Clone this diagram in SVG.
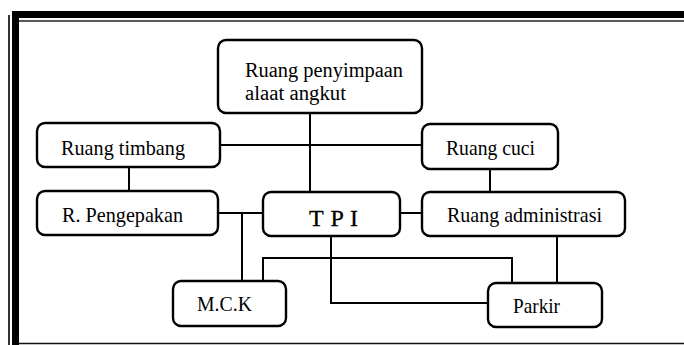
<svg xmlns="http://www.w3.org/2000/svg" width="684" height="345" viewBox="0 0 684 345">
  <style>
    .box { fill: #ffffff; stroke: #000000; stroke-width: 2.4; }
    .wire { fill: none; stroke: #000000; stroke-width: 2; }
    .lbl { font-family: "Liberation Serif", "Times New Roman", serif; font-size: 22px; fill: #000000; }
    .two { font-size: 20px; }
    .big { font-family: "Liberation Serif", "Times New Roman", serif; font-size: 24px; fill: #000000; stroke: #000000; stroke-width: 0.3; }
  </style>
  <rect x="0" y="0" width="684" height="345" fill="#ffffff"/>

  <!-- page frame -->
  <g id="frame">
    <rect x="12" y="11" width="672" height="7" fill="#000000"/>
    <rect x="12" y="11" width="7" height="334" fill="#000000"/>
    <line x1="9" y1="15" x2="9" y2="345" stroke="#000000" stroke-width="1.6"/>
    <line x1="19" y1="21" x2="684" y2="21" stroke="#222222" stroke-width="1.4"/>
    <line x1="19" y1="343.5" x2="684" y2="343.5" stroke="#111111" stroke-width="1.6"/>
  </g>

  <!-- connectors -->
  <g id="connectors">
    <line class="wire" x1="310" y1="113" x2="310" y2="192"/>
    <line class="wire" x1="220" y1="145" x2="422" y2="145"/>
    <line class="wire" x1="129" y1="167" x2="129" y2="191"/>
    <line class="wire" x1="490" y1="169" x2="490" y2="192"/>
    <line class="wire" x1="218" y1="213" x2="263" y2="213"/>
    <line class="wire" x1="242" y1="213" x2="242" y2="281"/>
    <line class="wire" x1="400" y1="213" x2="422" y2="213"/>
    <polyline class="wire" points="331,236 331,303 488,303"/>
    <polyline class="wire" points="263,281 263,258 512,258 512,283"/>
    <line class="wire" x1="557" y1="236" x2="557" y2="283"/>
  </g>

  <g id="ruang-penyimpaan">
    <rect class="box" x="218" y="40" width="204" height="73" rx="8"/>
    <text class="lbl two" x="245" y="77" textLength="158" lengthAdjust="spacingAndGlyphs">Ruang penyimpaan</text>
    <text class="lbl two" x="245" y="100" textLength="101" lengthAdjust="spacingAndGlyphs">alaat angkut</text>
  </g>

  <g id="ruang-timbang">
    <rect class="box" x="37" y="123" width="183" height="44" rx="8"/>
    <text class="lbl" x="61" y="155" textLength="124" lengthAdjust="spacingAndGlyphs">Ruang timbang</text>
  </g>

  <g id="ruang-cuci">
    <rect class="box" x="422" y="124" width="136" height="45" rx="8"/>
    <text class="lbl" x="446" y="155" textLength="89" lengthAdjust="spacingAndGlyphs">Ruang cuci</text>
  </g>

  <g id="r-pengepakan">
    <rect class="box" x="37" y="191" width="181" height="44" rx="8"/>
    <text class="lbl" x="62" y="222" textLength="121" lengthAdjust="spacingAndGlyphs">R. Pengepakan</text>
  </g>

  <g id="tpi">
    <rect class="box" x="263" y="192" width="137" height="44" rx="8"/>
    <text class="big" x="309" y="226" textLength="49" lengthAdjust="spacing">T P I</text>
  </g>

  <g id="ruang-administrasi">
    <rect class="box" x="422" y="192" width="203" height="44" rx="8"/>
    <text class="lbl" x="447" y="222" textLength="155" lengthAdjust="spacingAndGlyphs">Ruang administrasi</text>
  </g>

  <g id="mck">
    <rect class="box" x="173" y="281" width="113" height="45" rx="8"/>
    <text class="lbl" x="197" y="311" textLength="55" lengthAdjust="spacingAndGlyphs">M.C.K</text>
  </g>

  <g id="parkir">
    <rect class="box" x="488" y="283" width="114" height="44" rx="8"/>
    <text class="lbl" x="513" y="313" textLength="47" lengthAdjust="spacingAndGlyphs">Parkir</text>
  </g>
</svg>
